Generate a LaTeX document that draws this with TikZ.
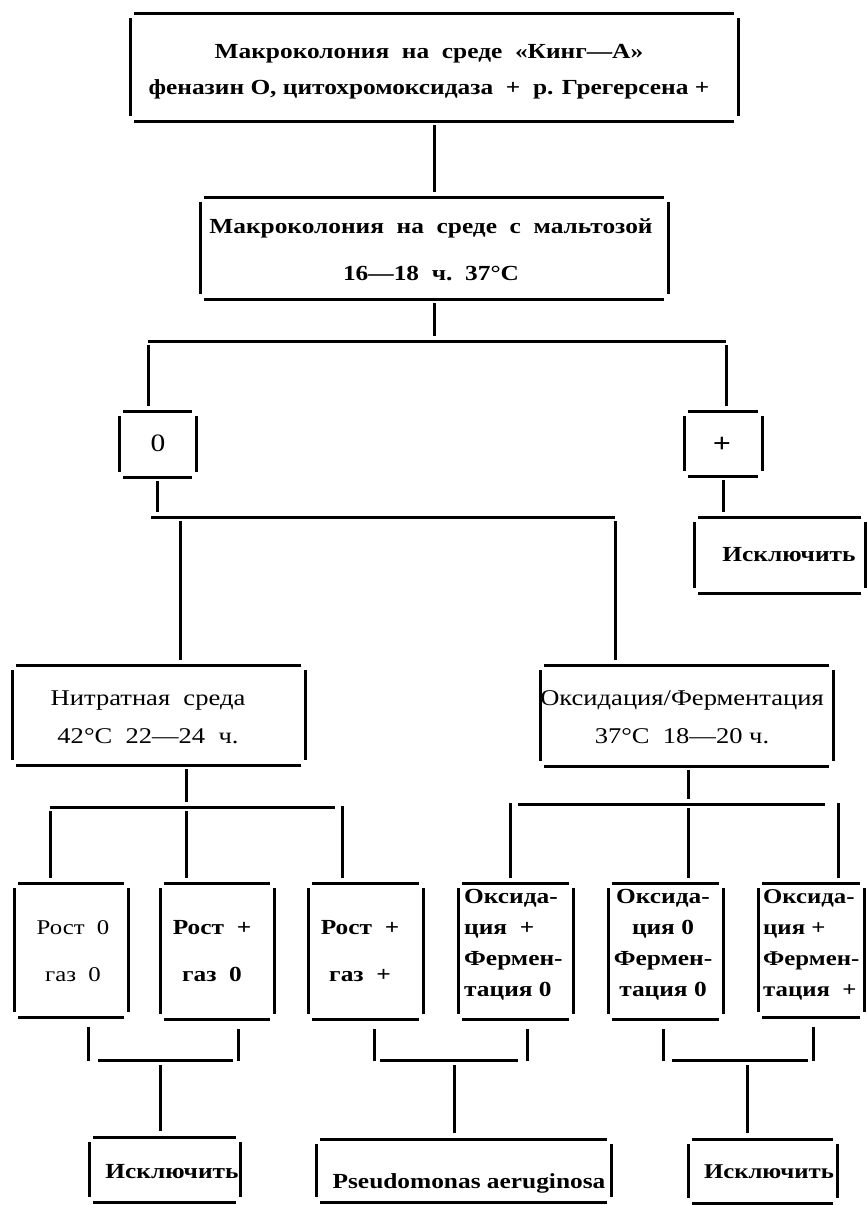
\documentclass[tikz,border=0pt]{standalone}
\usepackage{fontspec}
\setmainfont{Liberation Serif}[FakeStretch=1.18]
\usetikzlibrary{calc}
\newcommand\gframe[1]{%
  \draw[ln] ([xshift=4pt]#1.north west) -- ([xshift=-4pt]#1.north east);
  \draw[ln] ([xshift=4pt]#1.south west) -- ([xshift=-4pt]#1.south east);
  \draw[ln] ([yshift=-5pt]#1.north west) -- ([yshift=5pt]#1.south west);
  \draw[ln] ([yshift=-5pt]#1.north east) -- ([yshift=5pt]#1.south east);
}
\begin{document}
\begin{tikzpicture}[x=1pt,y=-1pt,
  ln/.style={line width=3pt},
  gap/.style={ln, shorten <=4pt, shorten >=5pt},
  bx/.style={rectangle, inner sep=0pt, outer sep=0pt, draw=none},
  tx/.style={inner sep=0pt, align=center, font=\fontsize{21.5}{36}\selectfont\bfseries},
  txr/.style={inner sep=0pt, align=center, font=\fontsize{22.5}{38}\selectfont},
]
\useasboundingbox (0,0) rectangle (867,1205);
\fill[white] (0,0) rectangle (867,1205);
% boxes
\node[bx, minimum width=608pt, minimum height=108pt] (T) at (434,67) {};
\node[bx, minimum width=468pt, minimum height=102pt] (M) at (434,248) {};
\node[bx, minimum width=77pt, minimum height=66pt] (Z) at (157.5,444) {};
\node[bx, minimum width=78pt, minimum height=65pt] (P) at (723,443.5) {};
\node[bx, minimum width=171pt, minimum height=76pt] (E1) at (779.5,555) {};
\node[bx, minimum width=293pt, minimum height=100pt] (N) at (158.5,715) {};
\node[bx, minimum width=293pt, minimum height=101pt] (O) at (686.5,715.5) {};
\node[bx, minimum width=114pt, minimum height=134pt] (R1) at (71,950) {};
\node[bx, minimum width=114pt, minimum height=136pt] (R2) at (217,951) {};
\node[bx, minimum width=115pt, minimum height=136pt] (R3) at (365.5,951) {};
\node[bx, minimum width=115pt, minimum height=136pt] (X1) at (515.5,951) {};
\node[bx, minimum width=115pt, minimum height=136pt] (X2) at (665.5,951) {};
\node[bx, minimum width=106pt, minimum height=134pt] (X3) at (811,950) {};
\node[bx, minimum width=151pt, minimum height=65pt] (E2) at (164.5,1169.5) {};
\node[bx, minimum width=295pt, minimum height=63pt] (PA) at (463.5,1170.5) {};
\node[bx, minimum width=149pt, minimum height=64pt] (E3) at (762.5,1171) {};
\foreach \b in {T,M,Z,P,E1,N,O,R1,R2,R3,X1,X2,X3,E2,PA,E3} {\gframe{\b}}
% texts
\node[tx] (tT) at (429,72) {Макроколония\ \ на\ \ среде\ \ «Кинг—А»\\феназин О, цитохромоксидаза\ \ +\ \ р. Грегерсена +};
\node[tx, font=\fontsize{21.5}{47}\selectfont\bfseries] (tM) at (431,250) {Макроколония\ \ на\ \ среде\ \ с\ \ мальтозой\\16—18\ \ ч.\ \ 37°C};
\node[txr, font=\fontsize{25}{30}\selectfont] (tZ) at (158,443) {0};
\node[tx, font=\fontsize{27}{30}\selectfont\bfseries] (tP) at (722,445) {+};
\node[tx] (tE1) at (789,555) {Исключить};
\node[txr] (tN) at (148,717) {Нитратная\ \ среда\\42°C\ \ 22—24\ \ ч.};
\node[txr] (tO) at (682,717) {Оксидация/Ферментация\\37°C\ \ 18—20 ч.};
\node[txr, font=\fontsize{21}{47}\selectfont] (tR1) at (73,951.5) {Рост\ \ 0\\газ\ \ 0};
\node[tx, font=\fontsize{21.5}{47}\selectfont\bfseries] (tR2) at (212,951.5) {Рост\ \ +\\газ\ \ 0};
\node[tx, font=\fontsize{21.5}{47}\selectfont\bfseries] (tR3) at (360,951.5) {Рост\ \ +\\газ\ \ +};
\node[tx, align=left, anchor=west, font=\fontsize{21.5}{31}\selectfont\bfseries] (tX1) at (464,945) {Оксида-\\ция\ \ +\\Фермен-\\тация 0};
\node[tx, font=\fontsize{21.5}{31}\selectfont\bfseries] (tX2) at (663,945) {Оксида-\\ция 0\\Фермен-\\тация 0};
\node[tx, align=left, anchor=west, font=\fontsize{21}{31}\selectfont\bfseries] (tX3) at (763,945) {Оксида-\\ция +\\Фермен-\\тация\ \ +};
\node[tx] (tE2) at (172,1172) {Исключить};
\node[tx] (tPA) at (469,1183) {Pseudomonas aeruginosa};
\node[tx, font=\fontsize{21}{36}\selectfont\bfseries] (tE3) at (769,1172) {Исключить};
% connectors
\draw[gap] (T) -- (M);
\coordinate (a1) at (148,341); \coordinate (a2) at (726,341);
\draw[gap] (M) -- (M |- a1);
\draw[ln] (a1) -- (a2);
\draw[gap] (a1) -- (a1 |- Z.north);
\draw[gap] (a2) -- (a2 |- P.north);
\coordinate (b1) at (151,517); \coordinate (b2) at (615,517); \coordinate (b3) at (180,517);
\draw[gap] (Z) -- (Z |- b1);
\draw[ln] (b1) -- (b2);
\draw[gap] (b3) -- (b3 |- N.north);
\draw[gap] (b2) -- (b2 |- O.north);
\draw[gap] (P) -- (P |- E1.north);
\coordinate (c1) at (50,807); \coordinate (c2) at (335,807);
\coordinate (c3) at (186,807); \coordinate (c4) at (342,807);
\draw[gap] (c3 |- N.south) -- (c3);
\draw[ln] (c1) -- (c2);
\draw[gap] (c1) -- (c1 |- R1.north);
\draw[gap] (c3) -- (c3 |- R2.north);
\draw[gap, shorten <=-1pt] (c4) -- (c4 |- R3.north);
\coordinate (d1) at (518,804); \coordinate (d2) at (825,804);
\coordinate (d3) at (688,804); \coordinate (d4) at (510,804); \coordinate (d5) at (838,804);
\draw[gap] (d3 |- O.south) -- (d3);
\draw[ln] (d1) -- (d2);
\draw[gap, shorten <=-1pt] (d4) -- (d4 |- X1.north);
\draw[gap] (d3) -- (d3 |- X2.north);
\draw[gap, shorten <=-1pt] (d5) -- (d5 |- X3.north);
% bottom brackets
\foreach \l/\r/\bl/\br/\m/\ul/\ur/\dn in {88/238/98/233/160/R1/R2/E2, 374/527/380/518/454/R3/X1/PA, 663/813/672/808/747/X2/X3/E3} {
  \coordinate (vl) at (\l,1060); \coordinate (vr) at (\r,1060);
  \coordinate (hl) at (\bl,1060); \coordinate (hr) at (\br,1060);
  \coordinate (hm) at (\m,1060);
  \draw[ln, shorten <=10pt, shorten >=-1pt] (vl |- \ul.south) -- (vl);
  \draw[ln, shorten <=10pt, shorten >=-1pt] (vr |- \ur.south) -- (vr);
  \draw[ln] (hl) -- (hr);
  \draw[ln, shorten <=5pt, shorten >=6pt] (hm) -- (hm |- \dn.north);
}
\end{tikzpicture}
\end{document}
